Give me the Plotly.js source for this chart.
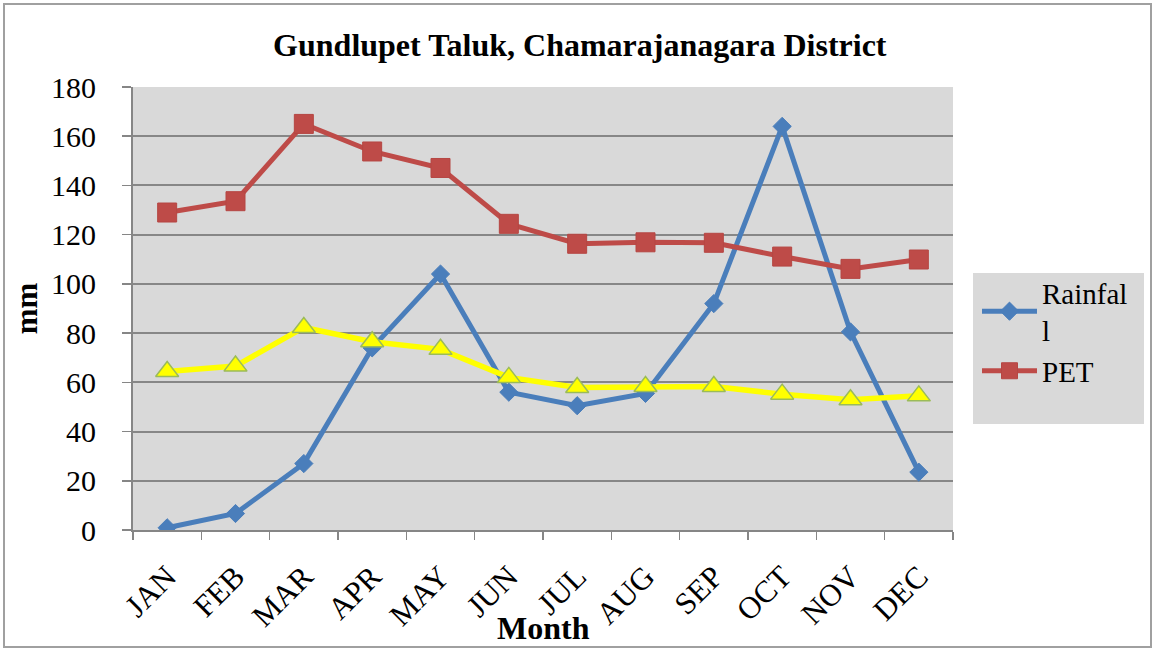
<!DOCTYPE html>
<html>
<head>
<meta charset="utf-8">
<script src="https://cdn.plot.ly/plotly-3.0.1.min.js"></script>
<style>
html,body{margin:0;padding:0;background:#fff;}
#chart{width:1155px;height:650px;}
</style>
</head>
<body>
<div id="chart"></div>
<script>
var months = ["JAN","FEB","MAR","APR","MAY","JUN","JUL","AUG","SEP","OCT","NOV","DEC"];
var rainfall = [0.9, 6.7, 27, 74, 104, 56, 50.5, 55.5, 92, 164, 80.5, 23.5];
var pet = [129, 133.6, 165, 153.8, 147.1, 124.4, 116.3, 116.9, 116.7, 111.1, 106.1, 109.9];
var halfPet = [64.4, 66.6, 82.3, 76.5, 73.4, 62, 57.9, 58.3, 58.3, 55.2, 52.9, 54.5];
var yTicks = [0, 20, 40, 60, 80, 100, 120, 140, 160, 180];

var serif = "Liberation Serif, Times New Roman, serif";

var traces = [
  {
    x: months, y: rainfall, name: "Rainfal<br>l", type: "scatter", mode: "lines+markers",
    line: {color: "#4a7ebb", width: 5},
    marker: {symbol: "diamond", size: 14, color: "#4a7ebb", line: {color: "#4a7ebb", width: 1}}
  },
  {
    x: months, y: pet, name: "PET", type: "scatter", mode: "lines+markers",
    line: {color: "#be4b48", width: 5},
    marker: {symbol: "square", size: 19, color: "#be4b48", line: {color: "#b54643", width: 1}}
  },
  {
    x: months, y: halfPet, name: "", type: "scatter", mode: "lines+markers", showlegend: false,
    line: {color: "#ffff00", width: 5.5},
    marker: {symbol: "triangle-up", size: 20, color: "#ffff00", line: {color: "#9bbb59", width: 1.5}}
  }
];

var layout = {
  width: 1155, height: 650,
  margin: {l: 133, r: 202, t: 87, b: 120, pad: 0},
  paper_bgcolor: "#ffffff",
  plot_bgcolor: "#d9d9d9",
  font: {family: serif, size: 30, color: "#000"},
  title: {
    text: "<b>Gundlupet Taluk, Chamarajanagara District</b>",
    font: {family: serif, size: 32, color: "#000"},
    xref: "container", x: 0.502, xanchor: "center",
    yref: "container", y: 1 - 45/650, yanchor: "middle"
  },
  xaxis: {
    type: "category",
    range: [-0.5, 11.5],
    tickangle: -45,
    tickson: "boundaries",
    ticks: "outside", ticklen: 8, tickcolor: "#868686", tickwidth: 1.5,
    ticklabelstandoff: 14,
    showgrid: false,
    showline: true, linecolor: "#868686", linewidth: 2,
    tickfont: {family: serif, size: 31, color: "#000"},
    zeroline: false,
    fixedrange: true
  },
  yaxis: {
    range: [0, 180],
    tickvals: yTicks,
    ticktext: yTicks.map(String),
    ticks: "outside", ticklen: 9, tickcolor: "#868686", tickwidth: 1.5,
    ticklabelstandoff: 20,
    showgrid: true, gridcolor: "#878787", gridwidth: 2,
    showline: true, linecolor: "#868686", linewidth: 2,
    zeroline: false,
    tickfont: {family: serif, size: 30, color: "#000"},
    title: {text: "<b>mm</b>", font: {family: serif, size: 31, color: "#000"}, standoff: 4},
    fixedrange: true
  },
  showlegend: true,
  legend: {
    x: (977 - 133) / 820, xanchor: "left",
    y: (530 - 267) / 443, yanchor: "top",
    bgcolor: "rgba(0,0,0,0)",
    borderwidth: 0,
    itemwidth: 55,
    tracegroupgap: 0,
    font: {family: serif, size: 29, color: "#000"}
  },
  shapes: [
    {type: "rect", xref: "paper", yref: "paper", layer: "below",
     x0: (973 - 133) / 820, x1: (1144 - 133) / 820,
     y0: (530 - 424) / 443, y1: (530 - 273) / 443,
     fillcolor: "#d9d9d9", line: {width: 0}},
    {type: "rect", xref: "paper", yref: "paper", layer: "above",
     x0: (4 - 133) / 820, x1: (1151 - 133) / 820,
     y0: (530 - 647) / 443, y1: (530 - 4) / 443,
     fillcolor: "rgba(0,0,0,0)", line: {color: "#a0a0a0", width: 2}}
  ],
  annotations: [
    {text: "<b>Month</b>", xref: "paper", yref: "paper", x: 0.5, xanchor: "center",
     y: (530 - 628) / 443, yanchor: "middle", showarrow: false,
     font: {family: serif, size: 32, color: "#000"}}
  ]
};

Plotly.newPlot("chart", traces, layout, {displayModeBar: false, staticPlot: true});
</script>
</body>
</html>
